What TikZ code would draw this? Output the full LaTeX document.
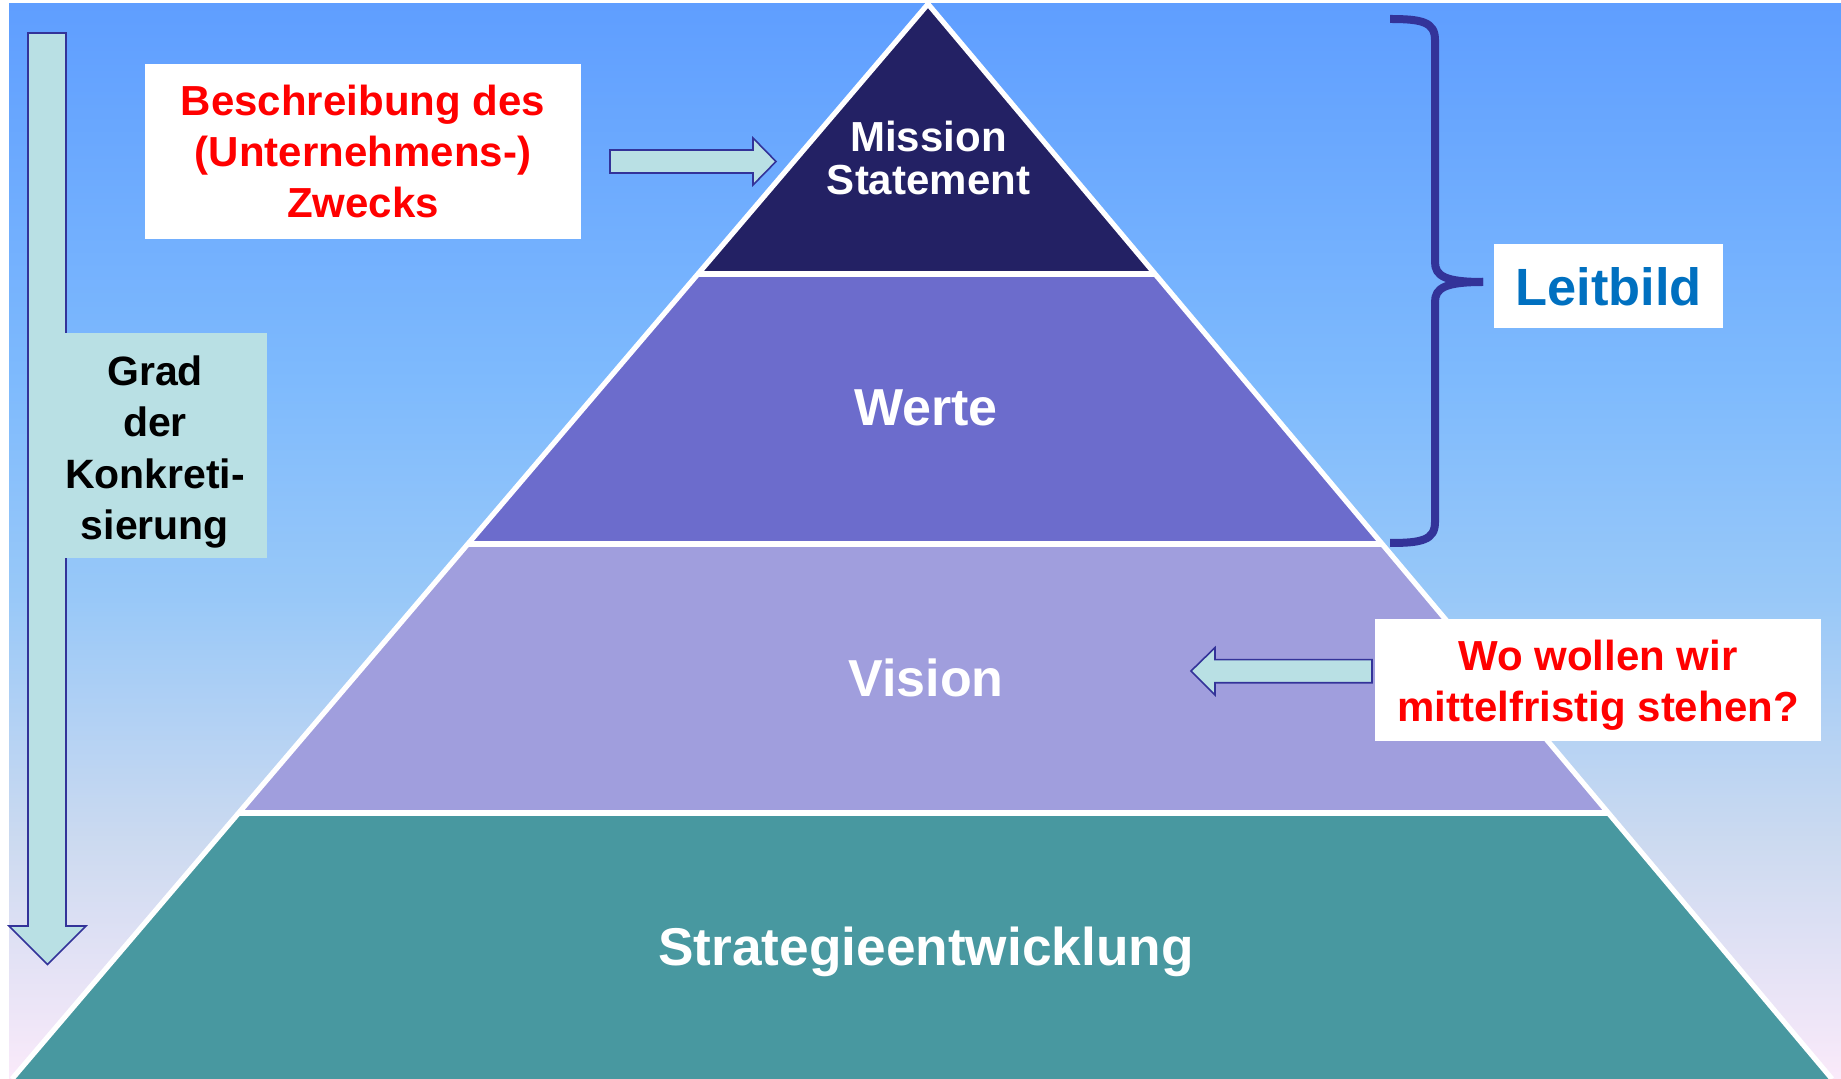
\documentclass[tikz,border=0pt]{standalone}
\usepackage{fontspec}
\setmainfont{Liberation Sans}
\definecolor{bgtop}{RGB}{95,158,255}
\definecolor{bgc35}{RGB}{126,186,253}
\definecolor{bgc55}{RGB}{152,200,248}
\definecolor{bgc78}{RGB}{204,218,240}
\definecolor{bgbot}{RGB}{250,234,250}
\definecolor{missionc}{RGB}{35,33,100}
\definecolor{wertec}{RGB}{108,108,204}
\definecolor{visionc}{RGB}{160,158,221}
\definecolor{stratc}{RGB}{72,152,160}
\definecolor{arrowfill}{RGB}{185,224,228}
\definecolor{arrowline}{RGB}{51,51,153}
\definecolor{leitc}{RGB}{0,112,192}
\pgfdeclareverticalshading{bgshade}{100bp}{color(0bp)=(bgbot); color(25bp)=(bgbot); color(36bp)=(bgc78); color(47.5bp)=(bgc55); color(57.5bp)=(bgc35); color(75bp)=(bgtop); color(100bp)=(bgtop)}
\begin{document}
\begin{tikzpicture}[x=0.5pt,y=-0.5pt,
  wline/.style={draw=white,line width=2.6pt,line join=miter},
  blockarrow/.style={fill=arrowfill,draw=arrowline,line width=0.8pt,line join=miter},
  bracestyle/.style={draw=arrowline,line width=4pt},
  boxnode/.style={rectangle,draw=none,inner sep=0pt,outer sep=0pt},
  txt/.style={inner sep=0pt,align=center,font=\bfseries\fontsize{21pt}{25.5pt}\selectfont},
  bigtxt/.style={inner sep=0pt,align=center,text=white,font=\bfseries\fontsize{26pt}{30pt}\selectfont}]
\useasboundingbox (0,0) rectangle (1841,1079);
\fill[white] (0,0) rectangle (1841,1079);
\shade[shading=bgshade] (9,4) rectangle (1841,1079);

% pyramid coordinates
\coordinate (apex) at (928,4);
\coordinate (l1) at (698,274);  \coordinate (r1) at (1155,274);
\coordinate (l2) at (468,544);  \coordinate (r2) at (1381,544);
\coordinate (l3) at (239,813);  \coordinate (r3) at (1607,813);
\coordinate (l4) at (12,1079);  \coordinate (r4) at (1832,1079);

\begin{scope}
\clip (0,0) rectangle (1841,1079);
\fill[missionc] (apex)--(r1)--(l1)--cycle;
\fill[wertec] (l1)--(r1)--(r2)--(l2)--cycle;
\fill[visionc] (l2)--(r2)--(r3)--(l3)--cycle;
\fill[stratc] (l3)--(r3)--(r4)--(l4)--cycle;
\draw[wline] (l4)--(apex)--(r4);
\draw[wline] (l1)--(r1);
\draw[wline] (l2)--(r2);
\draw[wline] (l3)--(r3);
\end{scope}

% layer texts
\node[txt,text=white,font=\bfseries\fontsize{21pt}{21.75pt}\selectfont] (mission) at (928.5,158) {Mission\\Statement};
\node[bigtxt] (werte) at (926,408) {Werte};
\node[bigtxt] (vision) at (926,677.5) {Vision};
\node[bigtxt,font=\bfseries\fontsize{26.6pt}{30pt}\selectfont] (strat) at (926,952) {Strategieentwicklung};

% down arrow and Grad box
\draw[blockarrow] (28,33)--(66,33)--(66,926)--(86,926)--(47.5,964.5)--(9,926)--(28,926)--cycle;
\node[boxnode,fill=arrowfill,minimum width=118.5pt,minimum height=112.5pt] (gradbox) at (148.5,445.5) {};
\node[txt,text=black,font=\bfseries\fontsize{20.5pt}{25.75pt}\selectfont] (grad) at (155,452) {Grad\\der\\Konkreti-\\sierung};

% Beschreibung box and arrow
\node[boxnode,fill=white,minimum width=218pt,minimum height=87.5pt] (beschbox) at (363,151.5) {};
\node[txt,text=red] (besch) at (363,151) {Beschreibung des\\(Unternehmens-)\\Zwecks};
\draw[blockarrow] (610,150)--(753,150)--(753,138)--(776,161.5)--(753,185)--(753,173)--(610,173)--cycle;

% brace and Leitbild
\draw[bracestyle] (1390,19) .. controls (1422,19) and (1435,22) .. (1435,40) -- (1435,262) .. controls (1435,276) and (1445,282) .. (1483,282);
\draw[bracestyle] (1483,282) .. controls (1445,282) and (1435,288) .. (1435,302) -- (1435,522) .. controls (1435,540) and (1422,543) .. (1390,543);
\node[boxnode,fill=white,minimum width=114.5pt,minimum height=42pt] (leitbox) at (1608.5,286) {};
\node[inner sep=0pt,text=leitc,font=\bfseries\fontsize{26.2pt}{30pt}\selectfont] (leit) at (1608.5,286.5) {Leitbild};

% Vision question box and arrow
\node[boxnode,fill=white,minimum width=223pt,minimum height=61pt] (wobox) at (1598,680) {};
\node[txt,text=red] (wo) at (1598,685) {Wo wollen wir\\mittelfristig stehen?};
\draw[blockarrow] (1372,659.6)--(1215,659.6)--(1215,647.6)--(1191,671)--(1215,695)--(1215,682.7)--(1372,682.7)--cycle;
\end{tikzpicture}
\end{document}
